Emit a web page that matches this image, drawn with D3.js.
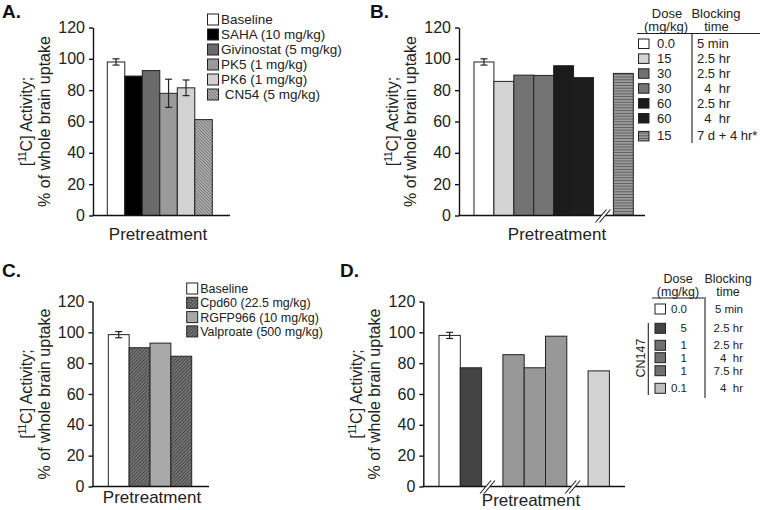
<!DOCTYPE html>
<html><head><meta charset="utf-8">
<script src="https://cdn.jsdelivr.net/npm/d3@7/dist/d3.min.js"></script>
<style>body{margin:0;background:#fff}svg{display:block}text{white-space:pre}</style>
</head><body>
<script>
// ---------------- DATA ----------------
const yTicks = [0, 20, 40, 60, 80, 100, 120];

const aLabels = ["Baseline", "SAHA (10 mg/kg)", "Givinostat (5 mg/kg)", "PK5 (1 mg/kg)", "PK6 (1 mg/kg)", " CN54 (5 mg/kg)"];
const aValues = [98, 89, 92.5, 78, 81.5, 61.2];
const aErrors = [2, 0, 0, 9, 5, 0];
const aGroups = [0, 0, 0, 0, 0, 0];

const bDose = ["0.0", "15", "30", "30", "60", "60", "15"];
const bTime = ["5 min", "2.5 hr", "2.5 hr", "  4  hr", "2.5 hr", "  4  hr", "7 d + 4 hr*"];
const bValues = [98, 85.6, 89.6, 89.4, 95.6, 88, 90.7];
const bErrors = [2, 0, 0, 0, 0, 0, 0];
const bGroups = [0, 0, 0, 0, 0, 0, 1];

const cLabels = ["Baseline", "Cpd60 (22.5 mg/kg)", "RGFP966 (10 mg/kg)", "Valproate (500 mg/kg)"];
const cValues = [98.5, 90, 93, 84.5];
const cErrors = [2, 0, 0, 0];
const cGroups = [0, 0, 0, 0];

const dDose = ["0.0", "5", "1", "1", "1", "0.1"];
const dTime = ["5 min", "2.5 hr", "2.5 hr", "4  hr", "7.5 hr", "4  hr"];
const dValues = [98, 77, 85.5, 77, 97.5, 75];
const dErrors = [2, 0, 0, 0, 0, 0];
const dGroups = [0, 0, 1, 1, 1, 2];

// ---------------- STYLES ----------------
const FONT = "'Liberation Sans', Arial, Helvetica, sans-serif";
const aFills = ["#ffffff", "#000000", "#6a6a6a", "#9a9a9a", "#d2d2d2", "url(#hatchLight)"];
const bFills = ["#ffffff", "#d4d4d4", "#727272", "#747474", "#1b1b1b", "#1d1d1d", "url(#stripesH)"];
const cFills = ["#ffffff", "url(#hatchDark)", "#a8a8a8", "url(#hatchDark)"];
const dFills = ["#ffffff", "#444444", "#989898", "#989898", "#989898", "#d2d2d2"];
const dLegendFills = ["#ffffff", "#444444", "#707070", "#707070", "#707070", "#bdbdbd"];

const svg = d3.select("body").append("svg").attr("width", 760).attr("height", 510)
  .style("font-family", FONT);

const defs = svg.append("defs");
function linePattern(id, bg, fg, w, rot, size) {
  const p = defs.append("pattern").attr("id", id).attr("patternUnits", "userSpaceOnUse")
    .attr("width", size).attr("height", size).attr("patternTransform", `rotate(${rot})`);
  p.append("rect").attr("width", size).attr("height", size).attr("fill", bg);
  p.append("line").attr("x1", 0).attr("y1", size / 2).attr("x2", size).attr("y2", size / 2)
    .attr("stroke", fg).attr("stroke-width", w);
}
linePattern("hatchLight", "#c4c4c4", "#666666", 1.0, 45, 2.2);
linePattern("hatchDark", "#8e8e8e", "#3a3a3a", 1.2, -45, 2.4);
linePattern("stripesH", "#ababab", "#5c5c5c", 1.3, 0, 2.8);

// ---------------- PANEL ----------------
function drawPanel(p) {
  const g = svg.append("g");
  const y = d3.scaleLinear().domain([0, 120]).range([p.y0, p.y120]);
  const slots = [], breaks = [];
  let s = 0;
  p.values.forEach((v, i) => {
    if (i > 0 && p.groups[i] !== p.groups[i - 1]) { breaks.push(s); s++; }
    slots.push(s); s++;
  });
  const x = d3.scaleBand().domain(d3.range(s)).range([p.barX0, p.barX1]).padding(0);
  const bw = x.bandwidth();

  g.selectAll("rect.bar").data(p.values).join("rect").attr("class", "bar")
    .attr("x", (d, i) => x(slots[i])).attr("width", bw)
    .attr("y", d => y(d)).attr("height", d => y(0) - y(d))
    .attr("fill", (d, i) => p.fills[i]).attr("stroke", "#222").attr("stroke-width", 1);

  p.values.forEach((v, i) => {
    const e = p.errors[i];
    if (!e) return;
    const cx = x(slots[i]) + bw / 2;
    g.append("line").attr("x1", cx).attr("x2", cx).attr("y1", y(v - e)).attr("y2", y(v + e))
      .attr("stroke", "#222").attr("stroke-width", 1.2);
    [v - e, v + e].forEach(t => g.append("line").attr("x1", cx - 3.5).attr("x2", cx + 3.5)
      .attr("y1", y(t)).attr("y2", y(t)).attr("stroke", "#222").attr("stroke-width", 1.2));
  });

  const ax = g.append("g").attr("transform", `translate(${p.axisX},0)`)
    .call(d3.axisLeft(y).tickValues(yTicks).tickSize(4).tickSizeOuter(0).tickPadding(4));
  ax.select(".domain").attr("stroke", "#111").attr("stroke-width", 1.4);
  ax.selectAll(".tick line").attr("stroke", "#111").attr("stroke-width", 1.4);
  ax.selectAll(".tick text").attr("font-size", 16).attr("fill", "#222").attr("font-family", FONT);

  g.append("line").attr("x1", p.axisX - 0.7).attr("x2", p.xEnd).attr("y1", y(0)).attr("y2", y(0))
    .attr("stroke", "#111").attr("stroke-width", 1.4);

  breaks.forEach(b => {
    const cx = x(b) + bw * p.breakFrac, cy = y(0);
    g.append("polygon").attr("points", `${cx - 6},${cy + 5} ${cx - 2},${cy + 5} ${cx + 6},${cy - 5} ${cx + 2},${cy - 5}`)
      .attr("fill", "#fff");
    [-2, 2].forEach(o => g.append("line")
      .attr("x1", cx + o - 6).attr("y1", cy + 7).attr("x2", cx + o + 5).attr("y2", cy - 6)
      .attr("stroke", "#222").attr("stroke-width", 1.1));
  });

  const mid = (p.y0 + p.y120) / 2;
  const lab = g.append("g").attr("transform", `translate(${p.axisX - 61},${mid}) rotate(-90)`)
    .attr("font-size", 16).attr("fill", "#222");
  const t1 = lab.append("text").attr("text-anchor", "middle").attr("y", 0);
  t1.append("tspan").text("[");
  t1.append("tspan").attr("font-size", 10).attr("dy", -6).text("11");
  t1.append("tspan").attr("dy", 6).text("C] Activity;");
  lab.append("text").attr("text-anchor", "middle").attr("y", 18).text("% of whole brain uptake");

  g.append("text").attr("x", p.ptX).attr("y", p.ptY).attr("text-anchor", "middle")
    .attr("font-size", 17).attr("fill", "#222").text("Pretreatment");

  g.append("text").attr("x", p.titleX).attr("y", p.titleY).attr("font-size", 19)
    .attr("font-weight", "bold").attr("fill", "#111").text(p.title);
  return g;
}

function simpleLegend(x0, y0, step, size, fs, labels, fills) {
  const g = svg.append("g");
  labels.forEach((l, i) => {
    const cy = y0 + i * step;
    g.append("rect").attr("x", x0).attr("y", cy - size / 2).attr("width", size).attr("height", size)
      .attr("fill", fills[i]).attr("stroke", "#222").attr("stroke-width", 1);
    g.append("text").attr("x", x0 + size + 2.5).attr("y", cy + fs * 0.36).attr("font-size", fs)
      .attr("fill", "#222").text(l);
  });
}

// ---------- Panel A ----------
drawPanel({ values: aValues, errors: aErrors, groups: aGroups, fills: aFills,
  axisX: 93, y0: 215.5, y120: 27.5, barX0: 107.3, barX1: 212.3, xEnd: 230, breakFrac: 0.5,
  ptX: 158, ptY: 240, title: "A.", titleX: 2, titleY: 18 });
simpleLegend(207.5, 19.5, 15, 11, 13.5, aLabels, aFills);

// ---------- Panel B ----------
drawPanel({ values: bValues, errors: bErrors, groups: bGroups, fills: bFills,
  axisX: 459, y0: 215.5, y120: 27.5, barX0: 474, barX1: 633.3, xEnd: 645, breakFrac: 0.5,
  ptX: 557, ptY: 240, title: "B.", titleX: 370, titleY: 18 });
(function () {
  const g = svg.append("g").attr("font-size", 13).attr("fill", "#222");
  g.append("text").attr("x", 667).attr("y", 17.5).attr("text-anchor", "middle").text("Dose");
  g.append("text").attr("x", 666).attr("y", 31).attr("text-anchor", "middle").text("(mg/kg)");
  g.append("text").attr("x", 716).attr("y", 17.5).attr("text-anchor", "middle").text("Blocking");
  g.append("text").attr("x", 716.5).attr("y", 31).attr("text-anchor", "middle").text("time");
  g.append("line").attr("x1", 637).attr("x2", 760).attr("y1", 33.5).attr("y2", 33.5).attr("stroke", "#222").attr("stroke-width", 1.1);
  g.append("line").attr("x1", 692).attr("x2", 692).attr("y1", 33.5).attr("y2", 143).attr("stroke", "#222").attr("stroke-width", 1.1);
  bDose.forEach((d, i) => {
    const cy = 43.5 + i * 14.9 + (bGroups[i] > 0 ? 3 : 0);
    g.append("rect").attr("x", 638.5).attr("y", cy - 4.5).attr("width", 10.5).attr("height", 9.5)
      .attr("fill", bFills[i]).attr("stroke", "#222").attr("stroke-width", 1);
    g.append("text").attr("x", 657).attr("y", cy + 4.5).text(d);
    g.append("text").attr("x", 697).attr("y", cy + 4.5).text(bTime[i]);
  });
})();

// ---------- Panel C ----------
drawPanel({ values: cValues, errors: cErrors, groups: cGroups, fills: cFills,
  axisX: 92.5, y0: 486.5, y120: 301.5, barX0: 108.3, barX1: 191.7, xEnd: 209, breakFrac: 0.5,
  ptX: 152, ptY: 503, title: "C.", titleX: 2, titleY: 277 });
simpleLegend(186.7, 288.5, 14.3, 11, 12.5, cLabels, cFills);

// ---------- Panel D ----------
drawPanel({ values: dValues, errors: dErrors, groups: dGroups, fills: dFills,
  axisX: 423.3, y0: 486.5, y120: 301.5, barX0: 439, barX1: 609.4, xEnd: 625, breakFrac: 0.3,
  ptX: 531, ptY: 506, title: "D.", titleX: 340, titleY: 277 });
(function () {
  const g = svg.append("g").attr("font-size", 12.5).attr("fill", "#222");
  g.append("text").attr("x", 678).attr("y", 282.5).attr("text-anchor", "middle").text("Dose");
  g.append("text").attr("x", 678).attr("y", 295.5).attr("text-anchor", "middle").text("(mg/kg)");
  g.append("text").attr("x", 728).attr("y", 282.5).attr("text-anchor", "middle").text("Blocking");
  g.append("text").attr("x", 728).attr("y", 295.5).attr("text-anchor", "middle").text("time");
  g.append("line").attr("x1", 652).attr("x2", 704).attr("y1", 298).attr("y2", 298).attr("stroke", "#222").attr("stroke-width", 1.1);
  g.append("line").attr("x1", 705).attr("x2", 705).attr("y1", 297).attr("y2", 398).attr("stroke", "#222").attr("stroke-width", 1.1);
  g.append("line").attr("x1", 648.3).attr("x2", 648.3).attr("y1", 323).attr("y2", 395).attr("stroke", "#222").attr("stroke-width", 1.1);
  g.append("text").attr("transform", "translate(645,358) rotate(-90)").attr("text-anchor", "middle")
    .attr("font-size", 12.5).text("CN147");
  const rowY = [309, 328.3, 345.3, 357.7, 370.7, 388.3];
  dDose.forEach((d, i) => {
    const cy = rowY[i];
    g.append("rect").attr("x", 655).attr("y", cy - 5).attr("width", 10.5).attr("height", 10)
      .attr("fill", dLegendFills[i]).attr("stroke", "#222").attr("stroke-width", 1);
    g.append("text").attr("x", 687).attr("y", cy + 4).attr("text-anchor", "end").attr("font-size", 11.5).text(d);
    g.append("text").attr("x", 743).attr("y", cy + 4).attr("text-anchor", "end").attr("font-size", 11.5).text(dTime[i]);
  });
})();
</script>
</body></html>
